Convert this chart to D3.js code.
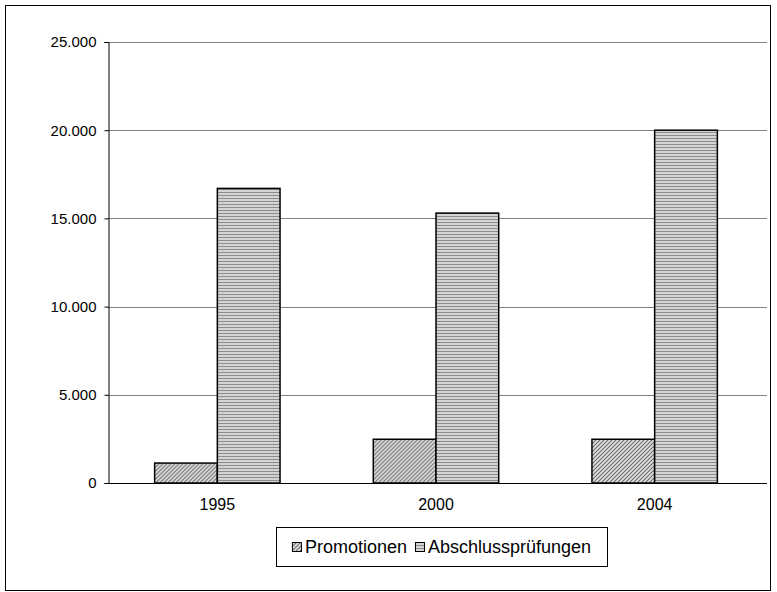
<!DOCTYPE html>
<html>
<head>
<meta charset="utf-8">
<script src="https://cdn.jsdelivr.net/npm/d3@7"></script>
<style>
  body { margin: 0; background: #fff; }
  svg { font-family: "Liberation Sans", Arial, sans-serif; }
</style>
</head>
<body>
<div id="chart"></div>
<script>
// data
const years = ["1995", "2000", "2004"];
const seriesNames = ["Promotionen", "Abschlussprüfungen"];
const promotionen = [1130, 2480, 2480];
const abschluss = [16700, 15300, 20000];
const yTicks = [0, 5000, 10000, 15000, 20000, 25000];

const W = 777, H = 592;
const margin = { top: 42, right: 10, bottom: 109, left: 108 };

const svg = d3.select("#chart").append("svg").attr("width", W).attr("height", H);

// patterns
const defs = svg.append("defs");
const diag = defs.append("pattern").attr("id", "pDiag").attr("patternUnits", "userSpaceOnUse").attr("width", 4).attr("height", 4);
diag.append("rect").attr("width", 4).attr("height", 4).attr("fill", "#e4e4e4");
diag.append("path").attr("d", "M-1,1 l2,-2 M0,4 l4,-4 M3,5 l2,-2").attr("stroke", "#666").attr("stroke-width", 1.1);

const horiz = defs.append("pattern").attr("id", "pHoriz").attr("patternUnits", "userSpaceOnUse").attr("width", 4).attr("height", 3);
horiz.append("rect").attr("width", 4).attr("height", 3).attr("fill", "#d4d4d4");
horiz.append("rect").attr("width", 4).attr("height", 1).attr("fill", "#8c8c8c");

const fills = ["url(#pDiag)", "url(#pHoriz)"];

// outer frame
svg.append("rect").attr("x", 5.5).attr("y", 5.5).attr("width", 765).attr("height", 585)
  .attr("fill", "none").attr("stroke", "#000").attr("stroke-width", 1);

const x0 = d3.scaleBand().domain(years).range([margin.left, W - margin.right - 3]).paddingInner(0.4265).paddingOuter(0.2133);
const x1 = d3.scaleBand().domain(seriesNames).range([0, x0.bandwidth()]);
const y = d3.scaleLinear().domain([0, 25000]).range([H - margin.bottom, margin.top]);

const fmt = d => d3.format(",")(d).replace(/,/g, ".");

// gridlines
svg.append("g").selectAll("line").data(yTicks.filter(d => d > 0)).enter().append("line")
  .attr("x1", margin.left).attr("x2", W - margin.right)
  .attr("y1", d => Math.round(y(d)) + 0.5).attr("y2", d => Math.round(y(d)) + 0.5)
  .attr("stroke", "#808080").attr("stroke-width", 1);

// bars
const rows = years.map((yr, i) => ({ year: yr, vals: [promotionen[i], abschluss[i]] }));
const groups = svg.append("g").selectAll("g").data(rows).enter().append("g")
  .attr("transform", d => `translate(${x0(d.year)},0)`);
groups.selectAll("rect").data(d => d.vals.map((v, j) => ({ key: seriesNames[j], v, j }))).enter().append("rect")
  .attr("x", d => x1(d.key)).attr("width", x1.bandwidth())
  .attr("y", d => y(d.v)).attr("height", d => y(0) - y(d.v))
  .attr("fill", d => fills[d.j]).attr("stroke", "#000").attr("stroke-width", 1.5);

// y axis
const yAxis = svg.append("g").attr("transform", `translate(${margin.left + 0.5},0)`)
  .call(d3.axisLeft(y).tickValues(yTicks).tickFormat(fmt).tickSize(4).tickPadding(8));
yAxis.attr("font-size", 15).attr("font-family", null);
yAxis.select(".domain").attr("stroke", "#000");
yAxis.selectAll("text").attr("fill", "#000");

// x axis
const xAxis = svg.append("g").attr("transform", `translate(0,${y(0) + 0.5})`)
  .call(d3.axisBottom(x0).tickSize(0).tickPadding(15));
xAxis.attr("font-size", 16).attr("font-family", null);
xAxis.select(".domain").attr("d", `M${margin.left},0H${W - margin.right}`).attr("stroke", "#000");
xAxis.selectAll("text").attr("fill", "#000");

// legend
const legW = 331, legH = 39;
const leg = svg.append("g").attr("transform", "translate(276,527)");
leg.append("rect").attr("x", 0.5).attr("y", 0.5).attr("width", legW).attr("height", legH)
  .attr("fill", "#fff").attr("stroke", "#000");
const items = seriesNames.map((name, i) => {
  const g = leg.append("g");
  g.append("rect").attr("x", 0.5).attr("y", 15.5).attr("width", 9).attr("height", 9)
    .attr("fill", fills[i]).attr("stroke", "#000");
  const t = g.append("text").attr("x", 13).attr("y", 26).attr("font-size", 18).text(name);
  return { g, w: 13 + t.node().getComputedTextLength() };
});
const gap = 8;
const total = d3.sum(items, d => d.w) + gap * (items.length - 1);
let cx = (legW - total) / 2;
items.forEach(it => {
  it.g.attr("transform", `translate(${cx},0)`);
  cx += it.w + gap;
});
</script>
</body>
</html>
